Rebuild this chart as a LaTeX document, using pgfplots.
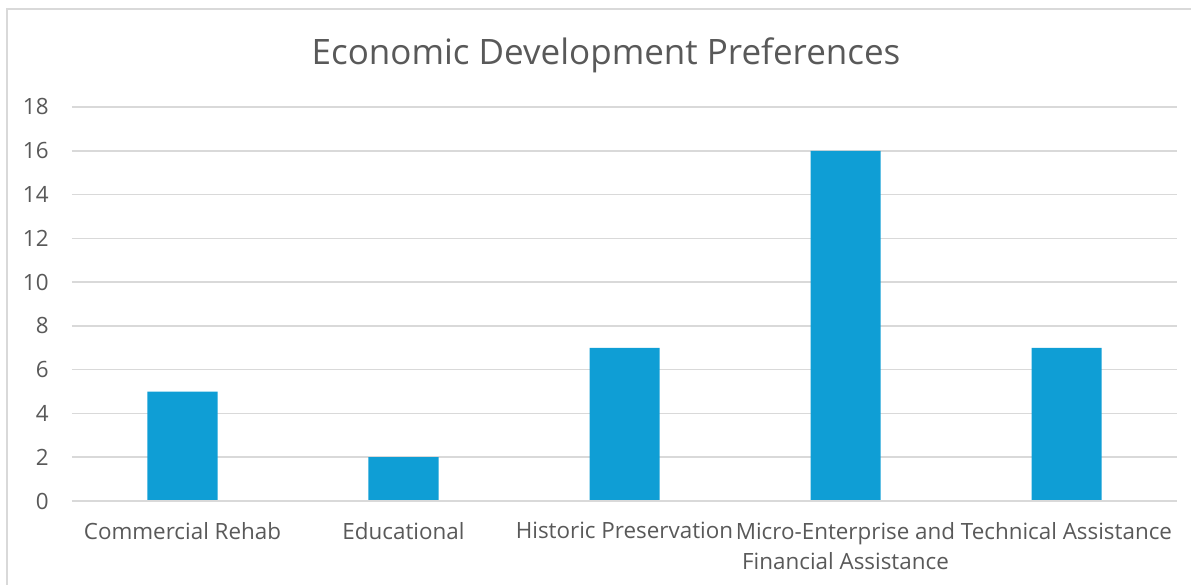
\documentclass[border=0pt]{standalone}
\usepackage{pgfplots}
\pgfplotsset{compat=1.18}
\usepackage{fontspec}
\setmainfont{Open Sans}
\definecolor{barblue}{HTML}{0F9ED5}
\definecolor{gridgray}{HTML}{D9D9D9}
\definecolor{textgray}{HTML}{595959}
\begin{document}
\begin{tikzpicture}
\useasboundingbox (0,0) rectangle (595.5bp,292.5bp);
\draw[gridgray, line width=1bp] (3.5bp,-20bp) rectangle (620bp,288bp);
\node[textgray, font=\fontsize{17.5bp}{21bp}\selectfont] at (303bp,265bp) {Economic Development Preferences};
\begin{axis}[
  at={(36bp,42bp)}, anchor=south west,
  scale only axis, width=552.5bp, height=197bp,
  xmin=-0.5, xmax=4.5, ymin=0, ymax=18,
  ytick={0,2,...,18},
  xtick={0,1,2,3,4},
  xticklabels={Commercial Rehab, Educational, Historic Preservation, Micro-Enterprise and\\Financial Assistance, Technical Assistance},
  axis line style={draw=none},
  axis x line*=bottom,
  major tick length=0pt,
  ymajorgrids, grid style={gridgray, line width=0.75bp},
  ticklabel style={textgray, font=\fontsize{11.2bp}{15bp}\selectfont},
  /pgf/number format/assume math mode=true,
  yticklabel style={inner xsep=0pt, xshift=-11.5bp},
  xticklabel style={align=center, anchor=north, inner ysep=0pt, yshift=-10.5bp},
  clip=false,
]
\addplot[ybar, bar width=35bp, fill=barblue, draw=none] coordinates {(0,5) (1,2) (2,7) (3,16) (4,7)};
\draw[gridgray, line width=0.75bp] (axis cs:-0.5,0) -- (axis cs:4.5,0);
\end{axis}
\end{tikzpicture}
\end{document}
